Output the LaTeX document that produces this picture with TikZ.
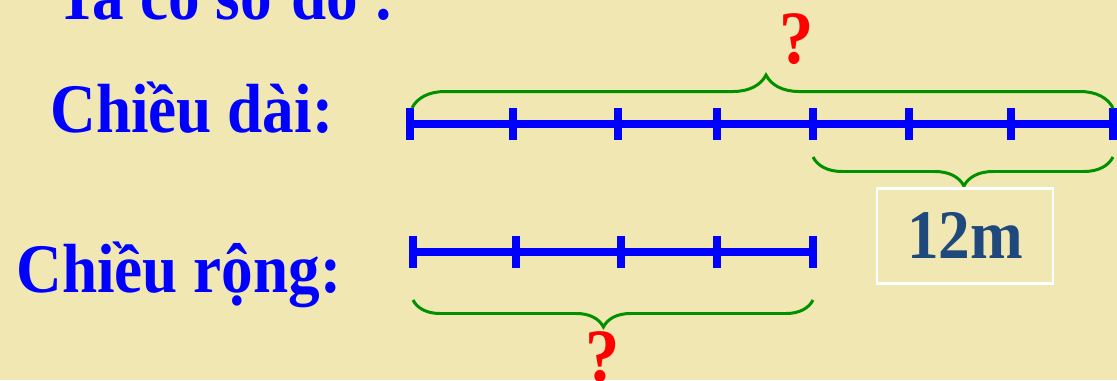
\documentclass[tikz,border=0pt]{standalone}
\usepackage{graphicx}
\usepackage{fontspec}
\setmainfont{Liberation Serif}
\usetikzlibrary{decorations.pathreplacing,calc}
\definecolor{slide}{RGB}{241,231,178}
\definecolor{bar}{RGB}{0,0,255}
\definecolor{bracegreen}{RGB}{0,145,0}
\definecolor{navy}{RGB}{31,73,125}
\newcommand{\bigfont}{\fontsize{36}{40}\selectfont\bfseries}
\newcommand{\tall}[1]{\scalebox{1}[1.1]{#1}}
\newcommand{\unitmark}[3]{\coordinate (#1) at (#2,#3); \draw[bar,line width=4.8pt] (#2,#3-16) -- (#2,#3+16);}
\newcommand{\curly}[5]{\draw[bracegreen,line width=1.7pt,decorate,decoration={brace,amplitude=#3,aspect=#4,#5}] #1 -- #2;}

\begin{document}
\begin{tikzpicture}[x=0.02cm,y=-0.02cm,
    words/.style={text=bar,font=\bigfont,anchor=base west,inner sep=0pt},
    ask/.style={text=red,font=\fontsize{39}{40}\selectfont\bfseries,anchor=base,inner sep=0pt}]
    \useasboundingbox (0,0) rectangle (1117,380);
    \clip (0,0) rectangle (1117,380);
    \fill[slide] (0,0) rectangle (1117,380);
    \node[words] (intro) at (56,19) {\tall{Ta có sơ đồ :}};
    \node[words] (len) at (50,132) {\tall{Chiều dài:}};
    \node[words] (wid) at (16,292) {\tall{Chiều rộng:}};
    % chieu dai: 7 phan
    \unitmark{L0}{410}{124} \unitmark{L1}{513}{124} \unitmark{L2}{618}{124}
    \unitmark{L3}{717}{124} \unitmark{L4}{813}{124} \unitmark{L5}{909}{124}
    \unitmark{L6}{1011}{124} \unitmark{L7}{1113}{124}
    \draw[bar,line width=4.8pt] (L0) -- (L7);
    % chieu rong: 4 phan
    \unitmark{W0}{413}{252} \unitmark{W1}{516}{252} \unitmark{W2}{621}{252}
    \unitmark{W3}{717}{252} \unitmark{W4}{813}{252}
    \draw[bar,line width=4.8pt] (W0) -- (W4);
    % ngoac
    \curly{($(L0)+(2,-16)$)}{($(L7)+(0,-16)$)}{0.66cm}{0.505}{}
    \curly{($(L4)+(0,33)$)}{($(L7)+(0,33)$)}{0.58cm}{0.503}{mirror}
    \curly{($(W0)+(0,48)$)}{($(W4)+(0,48)$)}{0.54cm}{0.476}{mirror}
    \node[ask] (q1) at (797,63) {\tall{?}};
    \node[ask] (q2) at (603,381) {\tall{?}};
    \node[draw=white,line width=1.7pt,minimum width=176*0.02cm,minimum height=95*0.02cm,
        text=navy,font=\bigfont] (diff) at (965,235.5) {\tall{12m}};
\end{tikzpicture}
\end{document}
